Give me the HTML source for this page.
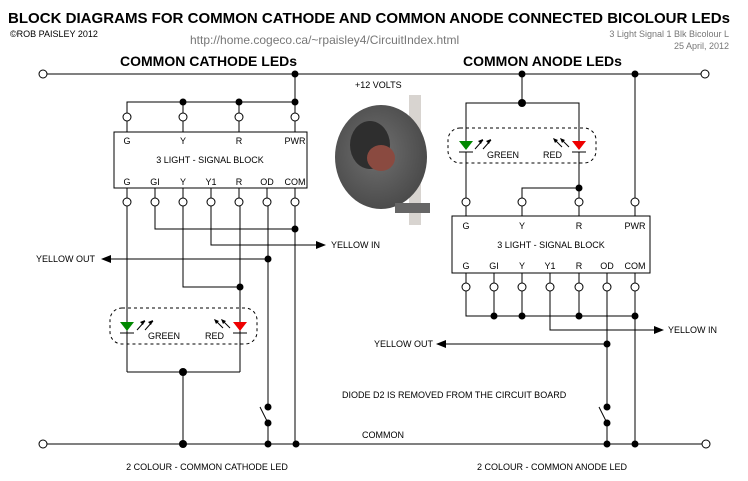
<!DOCTYPE html>
<html><head><meta charset="utf-8"><style>
html,body{margin:0;padding:0;background:#fff;}
svg{display:block;}
text{font-family:"Liberation Sans",sans-serif;fill:#000;}
.s{font-size:9px;}
.b{font-size:15px;font-weight:bold;}
.h{font-size:14px;font-weight:bold;}
</style></head><body>
<svg width="748" height="481" viewBox="0 0 748 481" xmlns="http://www.w3.org/2000/svg">
<defs>
<radialGradient id="g1" cx="0.45" cy="0.45" r="0.6"><stop offset="0" stop-color="#707070"/><stop offset="1" stop-color="#484848"/></radialGradient>
</defs>
<text x="8" y="23" class="b" textLength="722" lengthAdjust="spacingAndGlyphs">BLOCK DIAGRAMS FOR COMMON CATHODE AND COMMON ANODE CONNECTED BICOLOUR LEDs</text>
<text x="10" y="37" style="font-size:9px">©ROB PAISLEY 2012</text>
<text x="190" y="44" style="font-size:12px;fill:#777">http://home.cogeco.ca/~rpaisley4/CircuitIndex.html</text>
<text x="729" y="37" text-anchor="end" style="font-size:9px;fill:#777">3 Light Signal 1 Blk Bicolour L</text>
<text x="729" y="49" text-anchor="end" style="font-size:9px;fill:#777">25 April, 2012</text>
<text x="120" y="66" class="h">COMMON CATHODE LEDs</text>
<text x="463" y="66" class="h">COMMON ANODE LEDs</text>
<text x="355" y="88" class="s">+12 VOLTS</text>

<rect x="409" y="95" width="12" height="130" fill="#d8d4d0"/>
<ellipse cx="381" cy="157" rx="46" ry="52" fill="url(#g1)"/>
<ellipse cx="370" cy="145" rx="20" ry="24" fill="#2e2e2e"/>
<ellipse cx="381" cy="158" rx="14" ry="13" fill="#8a4a40"/>
<rect x="395" y="203" width="35" height="10" fill="#666"/>

<g stroke="#000" stroke-width="1" fill="none">
<line x1="47" y1="74" x2="701" y2="74"/>
<line x1="47" y1="444" x2="702" y2="444"/>
<line x1="295" y1="74" x2="295" y2="113"/>
<polyline points="127,113 127,102 295,102"/>
<line x1="183" y1="102" x2="183" y2="113"/>
<line x1="239" y1="102" x2="239" y2="113"/>
<rect x="114" y="132" width="193" height="56"/>
<line x1="127" y1="121" x2="127" y2="132"/><line x1="183" y1="121" x2="183" y2="132"/><line x1="239" y1="121" x2="239" y2="132"/><line x1="295" y1="121" x2="295" y2="132"/>
<line x1="127" y1="188" x2="127" y2="198"/><line x1="155" y1="188" x2="155" y2="198"/><line x1="183" y1="188" x2="183" y2="198"/><line x1="211" y1="188" x2="211" y2="198"/><line x1="239" y1="188" x2="239" y2="198"/><line x1="267" y1="188" x2="267" y2="198"/><line x1="295" y1="188" x2="295" y2="198"/>
<polyline points="155,206 155,229 295,229"/>
<polyline points="211,206 211,245 318,245"/>
<line x1="108" y1="259" x2="268" y2="259"/>
<polyline points="183,206 183,287 240,287"/>
<line x1="127" y1="206" x2="127" y2="372"/>
<line x1="240" y1="206" x2="240" y2="372"/>
<line x1="127" y1="372" x2="240" y2="372"/>
<line x1="183" y1="372" x2="183" y2="444"/>
<line x1="268" y1="206" x2="268" y2="407"/>
<line x1="268" y1="423" x2="268" y2="444"/>
<line x1="260" y1="407" x2="267" y2="421"/>
<line x1="295" y1="206" x2="295" y2="444"/>
<rect x="110" y="308" width="147" height="36" rx="12" stroke-dasharray="3,3"/>
<line x1="120" y1="333" x2="134" y2="333"/><line x1="233" y1="333" x2="247" y2="333"/>
<line x1="522" y1="74" x2="522" y2="103"/>
<polyline points="466,143 466,103 579,103 579,143"/>
<line x1="635" y1="74" x2="635" y2="198"/>
<rect x="448" y="128" width="148" height="35" rx="12" stroke-dasharray="3,3"/>
<line x1="459" y1="152" x2="473" y2="152"/><line x1="572" y1="152" x2="586" y2="152"/>
<line x1="466" y1="152" x2="466" y2="198"/>
<line x1="579" y1="152" x2="579" y2="198"/>
<polyline points="522,198 522,188 579,188"/>
<rect x="452" y="216" width="198" height="57"/>
<line x1="466" y1="206" x2="466" y2="216"/><line x1="522" y1="206" x2="522" y2="216"/><line x1="579" y1="206" x2="579" y2="216"/><line x1="635" y1="206" x2="635" y2="216"/>
<line x1="466" y1="273" x2="466" y2="283"/><line x1="494" y1="273" x2="494" y2="283"/><line x1="522" y1="273" x2="522" y2="283"/><line x1="550" y1="273" x2="550" y2="283"/><line x1="579" y1="273" x2="579" y2="283"/><line x1="607" y1="273" x2="607" y2="283"/><line x1="635" y1="273" x2="635" y2="283"/>
<polyline points="466,291 466,316 635,316"/>
<line x1="494" y1="291" x2="494" y2="316"/><line x1="522" y1="291" x2="522" y2="316"/><line x1="579" y1="291" x2="579" y2="316"/>
<polyline points="550,291 550,330 656,330"/>
<line x1="442" y1="344" x2="607" y2="344"/>
<line x1="607" y1="291" x2="607" y2="407"/>
<line x1="607" y1="423" x2="607" y2="444"/>
<line x1="599" y1="407" x2="606" y2="421"/>
<line x1="635" y1="291" x2="635" y2="444"/>
<g fill="#fff">
<circle cx="127" cy="117" r="4"/><circle cx="183" cy="117" r="4"/><circle cx="239" cy="117" r="4"/><circle cx="295" cy="117" r="4"/>
<circle cx="127" cy="202" r="4"/><circle cx="155" cy="202" r="4"/><circle cx="183" cy="202" r="4"/><circle cx="211" cy="202" r="4"/><circle cx="239" cy="202" r="4"/><circle cx="267" cy="202" r="4"/><circle cx="295" cy="202" r="4"/>
<circle cx="466" cy="202" r="4"/><circle cx="522" cy="202" r="4"/><circle cx="579" cy="202" r="4"/><circle cx="635" cy="202" r="4"/>
<circle cx="466" cy="287" r="4"/><circle cx="494" cy="287" r="4"/><circle cx="522" cy="287" r="4"/><circle cx="550" cy="287" r="4"/><circle cx="579" cy="287" r="4"/><circle cx="607" cy="287" r="4"/><circle cx="635" cy="287" r="4"/>
<circle cx="43" cy="74" r="4"/><circle cx="705" cy="74" r="4"/><circle cx="43" cy="444" r="4"/><circle cx="706" cy="444" r="4"/>
</g>
<line x1="137" y1="330" x2="145" y2="321"/><line x1="145" y1="330" x2="153" y2="321"/>
<line x1="230" y1="328" x2="222" y2="320"/><line x1="223" y1="328" x2="215" y2="320"/>
<line x1="475" y1="149" x2="483" y2="140"/><line x1="483" y1="149" x2="491" y2="140"/>
<line x1="569" y1="147" x2="561" y2="139"/><line x1="562" y1="147" x2="554" y2="139"/>
</g>
<g fill="#000">
<circle cx="295" cy="74" r="3.5"/><circle cx="522" cy="74" r="3.5"/><circle cx="635" cy="74" r="3.5"/>
<circle cx="183" cy="102" r="3.5"/><circle cx="239" cy="102" r="3.5"/><circle cx="295" cy="102" r="3.5"/>
<circle cx="295" cy="229" r="3.5"/><circle cx="268" cy="259" r="3.5"/><circle cx="240" cy="287" r="3.5"/>
<circle cx="183" cy="372" r="4"/><circle cx="268" cy="407" r="3.5"/><circle cx="268" cy="423" r="3.5"/>
<circle cx="183" cy="444" r="4"/><circle cx="268" cy="444" r="3.5"/><circle cx="296" cy="444" r="3.5"/>
<circle cx="522" cy="103" r="4"/><circle cx="579" cy="188" r="3.5"/>
<circle cx="494" cy="316" r="3.5"/><circle cx="522" cy="316" r="3.5"/><circle cx="579" cy="316" r="3.5"/><circle cx="635" cy="316" r="3.5"/>
<circle cx="607" cy="344" r="3.5"/><circle cx="607" cy="407" r="3.5"/><circle cx="607" cy="423" r="3.5"/>
<circle cx="607" cy="444" r="3.5"/><circle cx="635" cy="444" r="3.5"/>
<polygon points="316,241 326,245 316,249"/><polygon points="101,259 111,255 111,263"/>
<polygon points="654,326 664,330 654,334"/><polygon points="436,344 446,340 446,348"/>
<polygon points="145,320 140,322 143,325"/><polygon points="153,320 148,322 151,325"/>
<polygon points="214,319 219,321 216,324"/><polygon points="221,319 226,321 223,324"/>
<polygon points="483,139 478,141 481,144"/><polygon points="491,139 486,141 489,144"/>
<polygon points="553,138 558,140 555,143"/><polygon points="560,138 565,140 562,143"/>
</g>
<polygon points="120,322 134,322 127,331" fill="#080"/>
<polygon points="233,322 247,322 240,331" fill="#e00"/>
<polygon points="459,141 473,141 466,150" fill="#080"/>
<polygon points="572,141 586,141 579,150" fill="#e00"/>

<g class="s">
<text x="127" y="144" text-anchor="middle" class="s">G</text><text x="183" y="144" text-anchor="middle" class="s">Y</text><text x="239" y="144" text-anchor="middle" class="s">R</text><text x="295" y="144" text-anchor="middle" class="s">PWR</text>
<text x="210" y="163" text-anchor="middle" class="s">3 LIGHT - SIGNAL BLOCK</text>
<text x="127" y="185" text-anchor="middle" class="s">G</text><text x="155" y="185" text-anchor="middle" class="s">GI</text><text x="183" y="185" text-anchor="middle" class="s">Y</text><text x="211" y="185" text-anchor="middle" class="s">Y1</text><text x="239" y="185" text-anchor="middle" class="s">R</text><text x="267" y="185" text-anchor="middle" class="s">OD</text><text x="295" y="185" text-anchor="middle" class="s">COM</text>
<text x="331" y="248" class="s">YELLOW IN</text>
<text x="36" y="262" class="s">YELLOW OUT</text>
<text x="148" y="339" class="s">GREEN</text><text x="205" y="339" class="s">RED</text>
<text x="466" y="229" text-anchor="middle" class="s">G</text><text x="522" y="229" text-anchor="middle" class="s">Y</text><text x="579" y="229" text-anchor="middle" class="s">R</text><text x="635" y="229" text-anchor="middle" class="s">PWR</text>
<text x="551" y="248" text-anchor="middle" class="s">3 LIGHT - SIGNAL BLOCK</text>
<text x="466" y="269" text-anchor="middle" class="s">G</text><text x="494" y="269" text-anchor="middle" class="s">GI</text><text x="522" y="269" text-anchor="middle" class="s">Y</text><text x="550" y="269" text-anchor="middle" class="s">Y1</text><text x="579" y="269" text-anchor="middle" class="s">R</text><text x="607" y="269" text-anchor="middle" class="s">OD</text><text x="635" y="269" text-anchor="middle" class="s">COM</text>
<text x="487" y="158" class="s">GREEN</text><text x="543" y="158" class="s">RED</text>
<text x="668" y="333" class="s">YELLOW IN</text>
<text x="374" y="347" class="s">YELLOW OUT</text>
<text x="342" y="398" class="s">DIODE D2 IS REMOVED FROM THE CIRCUIT BOARD</text>
<text x="362" y="438" class="s">COMMON</text>
<text x="207" y="470" text-anchor="middle" class="s">2 COLOUR - COMMON CATHODE LED</text>
<text x="552" y="470" text-anchor="middle" class="s">2 COLOUR - COMMON ANODE LED</text>
</g>
</svg>
</body></html>
